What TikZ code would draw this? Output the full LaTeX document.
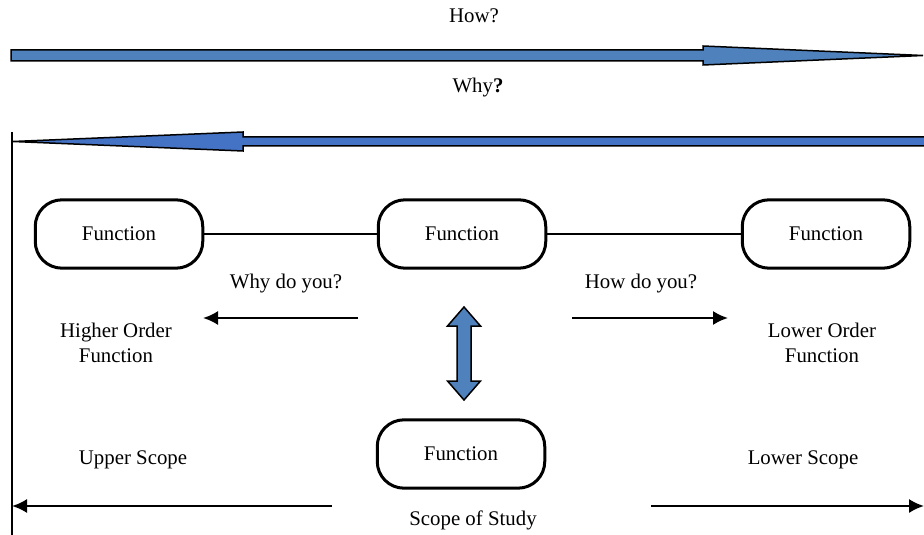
\documentclass[tikz,border=0pt]{standalone}
\usepackage{fontspec}
\setmainfont{Liberation Serif}
\usepackage{xcolor}
\usetikzlibrary{arrows.meta,calc,positioning}
\definecolor{howblue}{HTML}{4F81BD}
\definecolor{whyblue}{HTML}{4472C4}
\tikzset{%
	funcbox/.style = {draw, rectangle, rounded corners=16pt, line width=1.8pt, minimum width=100.5pt, minimum height=41pt, text centered},
	label/.style   = {align=center, inner sep=0pt},
	blockarrow/.style = {draw, line width=0.9pt, line join=miter},
	arrow/.style   = {line width=1.4pt, -{Latex[length=9pt,width=8.5pt]}},
}

\begin{document}
\begin{tikzpicture}[x=0.6pt,y=-0.6pt,font=\fontsize{12.5}{15}\selectfont]
	\useasboundingbox (0,0) rectangle (924,535);
	
	% How / Why block arrows
	\node[label] (how) at (474,16) {How?};
	\draw[blockarrow,fill=howblue] (11,50) -- (703,50) -- (703,46) -- (923,55.5) -- (703,65) -- (703,61) -- (11,61) -- cycle;
	\node[label] (why) at (478,88) {Why\textbf{?}};
	\draw[blockarrow,fill=whyblue] (926,137) -- (243,137) -- (243,132) -- (13,141.5) -- (243,151) -- (243,146) -- (926,146);
	\draw[line width=1.1pt] (12,132) -- (12,535);  % left border
	
	% functions
	\node[funcbox] (fhigh) at (119,234) {Function};
	\node[funcbox] (fmid)  at (462,234) {Function};
	\node[funcbox] (flow)  at (826,234) {Function};
	\node[funcbox] (fstudy) at (461,454) {Function};
	\draw[line width=1pt] (fhigh) -- (fmid);
	\draw[line width=1pt] (fmid) -- (flow);
	
	% why do you / how do you
	\node[label] (whydo) at (286,284) {Why do you?};
	\node[label] (howdo) at (641,284) {How do you?};
	\coordinate (wstart) at (358,318);
	\coordinate (wend)   at (203,318);
	\coordinate (hstart) at (572,318);
	\coordinate (hend)   at (728,318);
	\draw[arrow] (wstart) -- (wend);
	\draw[arrow] (hstart) -- (hend);
	\node[label] (higher) at (116,343) {Higher Order\\Function};
	\node[label] (lower)  at (822,343) {Lower Order\\Function};
	
	% up/down block arrow
	\draw[blockarrow,fill=howblue] (464,307) -- (480.5,326) -- (471,326) -- (471,381) -- (480.5,381) -- (464,400)
		-- (447.5,381) -- (457,381) -- (457,326) -- (447.5,326) -- cycle;
	
	% scope
	\node[label] (upper)   at (133,460) {Upper Scope};
	\node[label] (lowersc) at (803,460) {Lower Scope};
	\node[label] (study)   at (473,520) {Scope of Study};
	\coordinate (ustart) at (332,506);
	\coordinate (uend)   at (12,506);
	\coordinate (lstart) at (651,506);
	\coordinate (lend)   at (924,506);
	\draw[arrow] (ustart) -- (uend);
	\draw[arrow] (lstart) -- (lend);
\end{tikzpicture}
\end{document}
